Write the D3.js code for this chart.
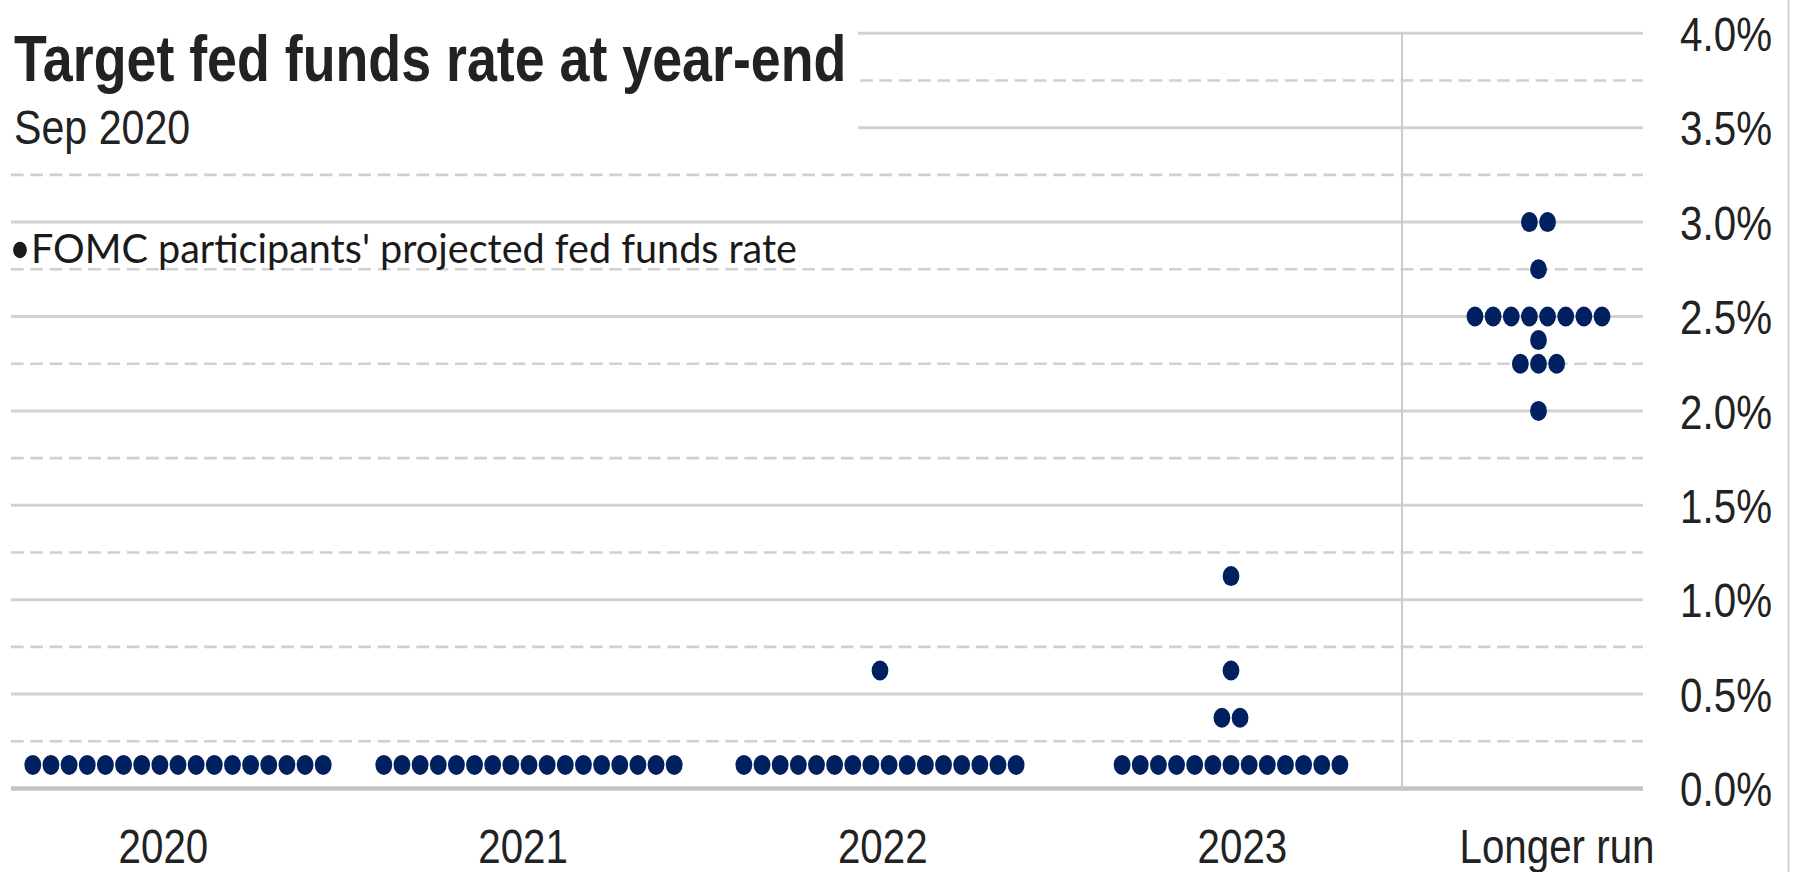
<!DOCTYPE html>
<html>
<head>
<meta charset="utf-8">
<script src="https://cdn.jsdelivr.net/npm/d3@7"></script>
<style>
  html, body { margin: 0; padding: 0; background: #fff; overflow: hidden; }
  svg { display: block; }
</style>
</head>
<body>
<svg id="chart"></svg>
<script>
// ---------------- DATA ----------------
const categories = ["2020", "2021", "2022", "2023", "Longer run"];
const yearCategories = ["2020", "2021", "2022", "2023"];
const longerRunCategory = ["Longer run"];

// [projected fed funds rate (%), number of FOMC participants]
const dots2020 = [[0.125, 17]];
const dots2021 = [[0.125, 17]];
const dots2022 = [[0.125, 16], [0.625, 1]];
const dots2023 = [[0.125, 13], [0.375, 2], [0.625, 1], [1.125, 1]];
const dotsLongerRun = [[2.0, 1], [2.25, 3], [2.375, 1], [2.5, 8], [2.75, 1], [3.0, 2]];

const solidTicks = [0, 0.5, 1, 1.5, 2, 2.5, 3, 3.5, 4];
const dashedTicks = [0.25, 0.75, 1.25, 1.75, 2.25, 2.75, 3.25, 3.75];
const tickLabels = ["0.0%", "0.5%", "1.0%", "1.5%", "2.0%", "2.5%", "3.0%", "3.5%", "4.0%"];

const titleText = "Target fed funds rate at year-end";
const subtitleText = "Sep 2020";
const legendText = "FOMC participants' projected fed funds rate";

// ---------------- LAYOUT ----------------
const W = 1794, H = 872;
const f = 0.84;                 // horizontal squeeze of the original picture
const VW = W / f;
const px = v => v / f;          // screen-x -> viewBox-x

const dotColor = "#002060";
const textColor = "#222222";
const fontArial = "'Liberation Sans', Arial, Helvetica, sans-serif";

const svg = d3.select("#chart")
  .attr("width", W).attr("height", H)
  .attr("viewBox", `0 0 ${VW} ${H}`)
  .attr("preserveAspectRatio", "none");

const y = d3.scaleLinear().domain([0, 4]).range([788.5, 33.3]);

const xYears = d3.scalePoint().domain(yearCategories).range([px(178), px(1231)]);
const xLR = d3.scaleBand().domain(longerRunCategory).range([px(1434), px(1643)]);
const xCenter = c => yearCategories.includes(c) ? xYears(c) : xLR(c) + xLR.bandwidth() / 2;

const xLabelYears = d3.scalePoint().domain(yearCategories).range([px(163), px(1242)]);
const xLabelLR = d3.scaleBand().domain(longerRunCategory).range([px(1453), px(1661)]);

const gridX0 = px(11), gridX1 = px(1643);

// dashed gridlines
svg.append("g").selectAll("line").data(dashedTicks).join("line")
  .attr("x1", gridX0).attr("x2", gridX1)
  .attr("y1", d => y(d)).attr("y2", d => y(d))
  .attr("stroke", "#d0d0d0").attr("stroke-width", 2.6)
  .attr("stroke-dasharray", `${px(12.7)} ${px(6.6)}`);

// solid gridlines
svg.append("g").selectAll("line").data(solidTicks).join("line")
  .attr("x1", gridX0).attr("x2", gridX1)
  .attr("y1", d => y(d)).attr("y2", d => y(d))
  .attr("stroke", d => d === 0 ? "#c4c4c4" : "#d2d2d2")
  .attr("stroke-width", d => d === 0 ? 4.5 : 3);

// white block behind title
svg.append("rect").attr("x", 0).attr("y", 0)
  .attr("width", px(858)).attr("height", 150).attr("fill", "#fff");

// separator between projections and longer run
svg.append("line")
  .attr("x1", px(1402)).attr("x2", px(1402))
  .attr("y1", y(4)).attr("y2", y(0))
  .attr("stroke", "#c8c8c8").attr("stroke-width", 2.2);

// right border
svg.append("line")
  .attr("x1", px(1788.5)).attr("x2", px(1788.5))
  .attr("y1", 0).attr("y2", H)
  .attr("stroke", "#d4d4d4").attr("stroke-width", 2.4);

// ---------------- DOTS ----------------
const series = [
  ["2020", dots2020], ["2021", dots2021], ["2022", dots2022],
  ["2023", dots2023], ["Longer run", dotsLongerRun]
];
const step = px(18.15);
const points = [];
series.forEach(([cat, rows]) => {
  rows.forEach(([rate, count]) => {
    for (let k = 0; k < count; k++) {
      points.push({ cat, rate, offset: (k - (count - 1) / 2) * step });
    }
  });
});
svg.append("g").selectAll("circle").data(points).join("circle")
  .attr("cx", d => xCenter(d.cat) + d.offset)
  .attr("cy", d => y(d.rate))
  .attr("r", 10)
  .attr("fill", dotColor);

// ---------------- AXES ----------------
const yAxis = d3.axisLeft(y).tickValues(solidTicks)
  .tickFormat((d, i) => tickLabels[i]).tickSize(0).tickPadding(0);
const gy = svg.append("g").attr("transform", `translate(${px(1772)},0)`).call(yAxis);
gy.select(".domain").remove();
gy.selectAll("text")
  .attr("font-family", fontArial).attr("font-size", 48)
  .attr("fill", textColor).attr("dy", "0.36em");

function bottomAxis(scale) {
  const g = svg.append("g").attr("transform", `translate(0,${863})`)
    .call(d3.axisBottom(scale).tickSize(0).tickPadding(0));
  g.select(".domain").remove();
  g.selectAll("text")
    .attr("font-family", fontArial).attr("font-size", 48)
    .attr("fill", textColor).attr("dy", 0).attr("y", 0);
}
bottomAxis(xLabelYears);
bottomAxis(xLabelLR);

// ---------------- TITLES & LEGEND ----------------
svg.append("text").attr("x", px(14)).attr("y", 81)
  .attr("font-family", fontArial).attr("font-weight", "bold")
  .attr("font-size", 64).attr("fill", textColor)
  .text(titleText);

svg.append("text").attr("x", px(14)).attr("y", 144)
  .attr("font-family", fontArial).attr("font-size", 49)
  .attr("fill", textColor)
  .text(subtitleText);

svg.append("circle").attr("cx", px(20)).attr("cy", 250).attr("r", 8.2)
  .attr("fill", "#1a1a1a");
svg.append("text").attr("x", px(31)).attr("y", 263)
  .attr("font-family", "Lato, 'Open Sans', sans-serif").attr("font-size", 41)
  .attr("fill", "#1a1a1a")
  .attr("textLength", px(766)).attr("lengthAdjust", "spacingAndGlyphs")
  .text(legendText);
</script>
</body>
</html>
